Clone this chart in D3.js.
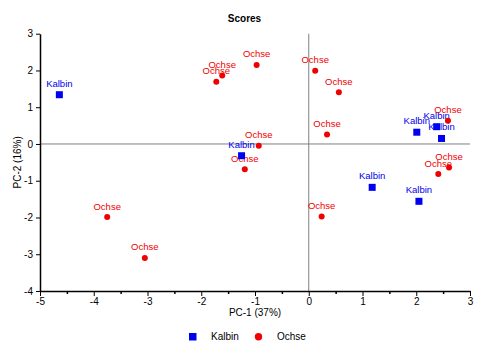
<!DOCTYPE html>
<html>
<head>
    <title>Scores</title>
    <style>
        body { margin: 0; background: #fff; }
        svg text { font-family: Arial, "Liberation Sans", sans-serif; }
        .tick text { font-size: 10px; fill: #000; }
        .axis path, .axis line { stroke: #000; }
    </style>
    <script src="https://d3js.org/d3.v7.min.js"></script>
</head>
<body>
<div id="chart"></div>
<script>
    // scores
    var kalbinX = [-4.64, -1.25, 2.01, 2.38, 2.47, 1.18, 2.05];
    var kalbinY = [1.34, -0.32, 0.32, 0.47, 0.15, -1.18, -1.56];
    var ochseX = [-0.97, -1.61, -1.72, 0.12, 0.56, 0.34, -0.93, -1.19, 2.59, 2.61, 2.41, 0.24, -3.75, -3.05];
    var ochseY = [2.15, 1.86, 1.69, 1.99, 1.41, 0.26, -0.05, -0.69, 0.63, -0.64, -0.82, -1.97, -1.99, -3.10];
    var groups = ["Kalbin", "Ochse"];
    var xTicks = [-5, -4, -3, -2, -1, 0, 1, 2, 3];
    var yTicks = [-4, -3, -2, -1, 0, 1, 2, 3];

    var width = 489, height = 351;
    var blue = "#0000f0", red = "#f00000";

    var x = d3.scaleLinear().domain([-5, 3]).range([40, 470]);
    var y = d3.scaleLinear().domain([-4, 3]).range([291, 33.7]);

    var svg = d3.select("#chart").append("svg")
        .attr("width", width)
        .attr("height", height);

    svg.append("rect").attr("width", width).attr("height", height).attr("fill", "#fff");

    // zero lines
    svg.append("line")
        .attr("x1", x(0)).attr("x2", x(0))
        .attr("y1", y(3)).attr("y2", y(-4))
        .attr("stroke", "#808080").attr("stroke-width", 1);
    svg.append("line")
        .attr("x1", x(-5)).attr("x2", x(3))
        .attr("y1", y(0)).attr("y2", y(0))
        .attr("stroke", "#808080").attr("stroke-width", 1);

    // axes
    var xAxis = svg.append("g")
        .attr("class", "axis")
        .attr("transform", "translate(0," + y(-4) + ")")
        .call(d3.axisBottom(x).tickValues(xTicks).tickSize(5).tickPadding(2).tickSizeOuter(0)
            .tickFormat(function(d) { return d < 0 ? "-" + Math.abs(d) : d; }));
    xAxis.select(".domain").attr("stroke-width", 1.5);

    svg.append("g")
        .attr("class", "axis")
        .attr("transform", "translate(0," + y(-4) + ")")
        .call(d3.axisBottom(x).tickValues(d3.range(-4.5, 3, 1)).tickSize(3).tickFormat(""))
        .call(function(g) { g.select(".domain").remove(); g.selectAll("line").attr("stroke-width", 1.5); });

    var yAxis = svg.append("g")
        .attr("class", "axis")
        .attr("transform", "translate(" + x(-5) + ",0)")
        .call(d3.axisLeft(y).tickValues(yTicks).tickSize(4).tickPadding(3).tickSizeOuter(0)
            .tickFormat(function(d) { return d < 0 ? "-" + Math.abs(d) : d; }));
    yAxis.select(".domain").attr("stroke-width", 1.5);

    svg.append("g")
        .attr("class", "axis")
        .attr("transform", "translate(" + x(-5) + ",0)")
        .call(d3.axisLeft(y).tickValues(d3.range(-3.5, 3, 1)).tickSize(3).tickFormat(""))
        .call(function(g) { g.select(".domain").remove(); g.selectAll("line").attr("stroke-width", 2).attr("x2", 1); });

    // title and axis labels
    svg.append("text")
        .attr("x", width / 2).attr("y", 22)
        .attr("text-anchor", "middle")
        .style("font-size", "10px").style("font-weight", "bold")
        .text("Scores");

    svg.append("text")
        .attr("x", (x(-5) + x(3)) / 2).attr("y", 316)
        .attr("text-anchor", "middle")
        .style("font-size", "10px")
        .text("PC-1 (37%)");

    svg.append("text")
        .attr("transform", "rotate(-90)")
        .attr("x", -(y(3) + y(-4)) / 2).attr("y", 21)
        .attr("text-anchor", "middle")
        .style("font-size", "10px")
        .text("PC-2 (16%)");

    var kalbin = kalbinX.map(function(d, i) { return { x: d, y: kalbinY[i] }; });
    var ochse = ochseX.map(function(d, i) { return { x: d, y: ochseY[i] }; });

    // labels first, markers on top
    svg.selectAll(".klabel").data(kalbin).enter().append("text")
        .attr("x", function(d) { return x(d.x); })
        .attr("y", function(d) { return y(d.y) - 8; })
        .attr("text-anchor", "middle")
        .style("font-size", "9.5px").attr("fill", blue)
        .text(groups[0]);

    svg.selectAll(".olabel").data(ochse).enter().append("text")
        .attr("x", function(d) { return x(d.x); })
        .attr("y", function(d) { return y(d.y) - 7.5; })
        .attr("text-anchor", "middle")
        .style("font-size", "9.5px").attr("fill", red)
        .text(groups[1]);

    svg.selectAll(".kpt").data(kalbin).enter().append("rect")
        .attr("x", function(d) { return x(d.x) - 3.5; })
        .attr("y", function(d) { return y(d.y) - 3.5; })
        .attr("width", 7).attr("height", 7)
        .attr("fill", blue);

    svg.selectAll(".opt").data(ochse).enter().append("circle")
        .attr("cx", function(d) { return x(d.x); })
        .attr("cy", function(d) { return y(d.y); })
        .attr("r", 3)
        .attr("fill", red);

    // legend
    var legend = svg.append("g");
    legend.append("rect")
        .attr("x", 189).attr("y", 333).attr("width", 7.5).attr("height", 7.5)
        .attr("fill", blue);
    legend.append("text")
        .attr("x", 211).attr("y", 340)
        .style("font-size", "10px")
        .text(groups[0]);
    legend.append("circle")
        .attr("cx", 258.5).attr("cy", 336.7).attr("r", 3.7)
        .attr("fill", red);
    legend.append("text")
        .attr("x", 277).attr("y", 340)
        .style("font-size", "10px")
        .text(groups[1]);
</script>
</body>
</html>
